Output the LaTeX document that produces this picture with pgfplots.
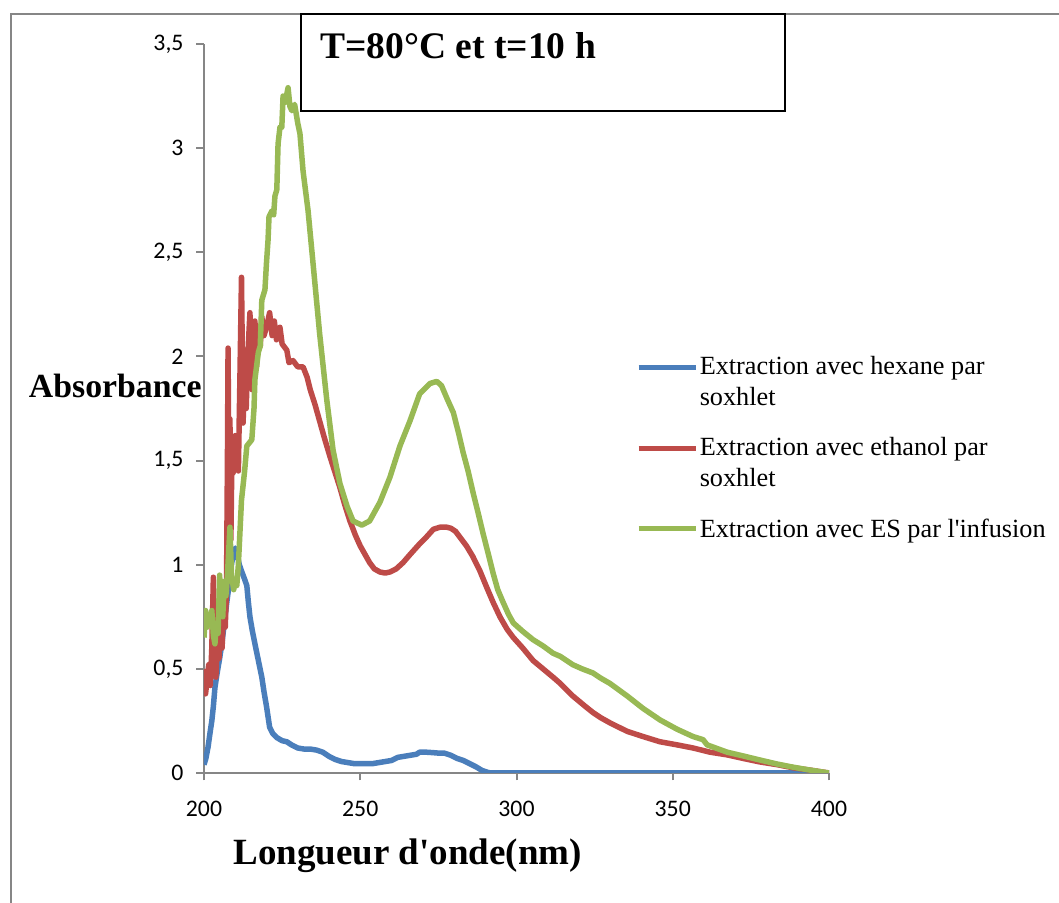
\documentclass[border=0pt]{standalone}
\usepackage{fontspec}
\setmainfont{Liberation Serif}[Ligatures=TeXOff]
\newfontfamily\carlito{Carlito}
\usepackage{pgfplots}
\pgfplotsset{compat=1.18}
\definecolor{hexblue}{HTML}{4A7EBB}
\definecolor{ethred}{HTML}{BE4B48}
\definecolor{esgreen}{HTML}{98B954}
\definecolor{axgray}{HTML}{868686}
\pgfplotsset{
    twolineimg/.style={legend image code/.code={\draw[##1, line width=2.2pt] (0pt,0.3em+3.2pt) -- (22.8pt,0.3em+3.2pt);}},
    onelineimg/.style={legend image code/.code={\draw[##1, line width=2.2pt] (0pt,0.3em-2.4pt) -- (22.8pt,0.3em-2.4pt);}},
}

\begin{document}
\begin{tikzpicture}
\begin{axis}[
    scale only axis,
    width=250pt, height=291.6pt,
    xmin=200, xmax=400, ymin=0, ymax=3.5,
    xtick={200,250,...,400},
    ytick={0,0.5,...,3.5},
    axis lines=left,
    x axis line style={-}, y axis line style={-},
    axis line style={axgray, line width=0.8pt},
    tick align=outside,
    major tick length=3pt,
    tick style={axgray, line width=0.8pt},
    /pgf/number format/.cd, use comma, 1000 sep={}, assume math mode=true,
    /pgfplots/.cd,
    ticklabel style={font=\carlito\fontsize{9.5}{11}\selectfont},
    yticklabel style={anchor=east, inner sep=0pt, xshift=-5pt},
    xticklabel style={anchor=north, inner sep=0pt, yshift=-8pt},
    every axis plot/.append style={line width=2.2pt, line join=round},
    legend style={at={(rel axis cs:0.69,0.579)}, anchor=north west, draw=none, fill=none,
        font=\fontsize{10.5}{12.4}\selectfont, row sep=7.3pt, inner sep=0pt,
        nodes={inner xsep=0.6pt}, cells={align=left}},
    legend cell align=left,
]
\addplot[hexblue, twolineimg] table {
200 0.04
200.6 0.07
201.3 0.125
202 0.2
202.5 0.25
203 0.32
203.5 0.41
204.2 0.48
205 0.55
205.8 0.63
206.5 0.72
207.3 0.82
208 0.9
208.6 0.98
209.3 1.05
210 1.08
210.6 1.05
211.3 1.0
212 0.97
213 0.93
213.7 0.9
214.2 0.82
214.7 0.75
215.5 0.68
216.3 0.62
217.4 0.54
218.5 0.46
219.2 0.39
220 0.32
220.5 0.27
221 0.22
222 0.19
223.3 0.17
225 0.155
226.5 0.15
228 0.135
230 0.12
232 0.115
234 0.115
236 0.11
238 0.10
240 0.08
242 0.065
244 0.055
246 0.05
248 0.045
250 0.045
252 0.045
254 0.045
256 0.05
258 0.055
260 0.06
262 0.075
264 0.08
266 0.085
268 0.09
269 0.10
271 0.10
273 0.098
275.5 0.095
277 0.095
279 0.085
281 0.07
283 0.06
285 0.045
287 0.03
289 0.012
291 0.002
292 0
400 0
};
\addlegendentry{Extraction avec hexane par\\soxhlet}
\addplot[ethred, twolineimg] table {
200 0.50
200.5 0.38
201 0.45
201.5 0.52
202 0.42
202.5 0.60
203 0.94
203.3 0.55
203.8 0.46
204.3 0.64
204.8 0.55
205.3 0.78
205.8 0.60
206.3 0.85
206.8 0.70
207.2 0.88
207.5 1.5
207.7 2.04
208 1.3
208.3 1.7
208.6 1.12
209 1.6
209.3 1.44
210 1.62
210.5 1.55
211 1.45
211.5 1.9
212 2.38
212.5 1.68
213 1.9
213.5 1.75
214 2.0
214.7 2.21
215.4 1.84
216.3 2.17
216.8 1.95
217.3 2.14
218 2.05
218.5 2.19
219.2 2.10
220 2.14
221 2.21
221.8 2.10
222.5 2.17
223.2 2.08
223.7 2.11
224.3 2.14
225 2.06
226.5 2.03
227.2 1.97
228.5 1.98
230 1.95
231.7 1.95
233 1.90
234 1.84
235.5 1.77
237 1.69
238.5 1.61
240.3 1.52
242 1.44
243.5 1.37
245 1.29
246.7 1.21
248.5 1.14
250 1.09
251.5 1.05
253 1.01
254.5 0.98
256.3 0.965
258 0.96
259.5 0.965
261.5 0.98
263.7 1.01
266 1.05
269 1.10
271 1.13
273.4 1.17
275.5 1.18
277.7 1.18
279 1.175
280.5 1.16
282 1.13
284 1.09
286 1.04
288.3 0.97
290.5 0.89
292.5 0.82
294.7 0.75
297 0.69
299 0.65
302 0.60
305.3 0.54
308.5 0.50
311.7 0.46
314 0.43
316 0.40
318 0.37
320 0.345
322 0.32
324.5 0.29
327 0.265
330 0.24
335.4 0.20
340.5 0.175
345.9 0.15
351.4 0.135
356.5 0.12
361.9 0.10
367.4 0.087
372.5 0.07
377.9 0.053
383.4 0.04
388.5 0.025
393.9 0.014
400 0
};
\addlegendentry{Extraction avec ethanol par\\soxhlet}
\addplot[esgreen, onelineimg] table {
200 0.65
200.5 0.78
201 0.70
201.5 0.76
202 0.72
202.5 0.78
203 0.66
203.5 0.62
204 0.72
204.5 0.67
205 0.95
205.5 0.80
206 0.75
206.5 0.92
207 0.85
207.5 0.95
208.3 1.18
208.8 0.95
209.5 0.88
210 0.92
210.5 0.90
211 1.0
212 1.31
213 1.45
213.7 1.57
215.3 1.60
216 1.75
216.3 1.89
217.4 2.02
218 2.05
218.5 2.27
219.5 2.32
220 2.45
220.5 2.56
220.8 2.67
221.8 2.70
222.3 2.68
222.7 2.77
223.3 2.80
223.7 3.02
224.3 3.10
224.9 3.10
225.3 3.25
226 3.22
226.9 3.29
227.5 3.20
228.1 3.18
229 3.21
230 3.12
230.7 3.07
231.7 2.89
233.3 2.70
235 2.43
237 2.11
239.3 1.79
241.3 1.55
243.5 1.39
245.8 1.28
247.7 1.21
250.5 1.19
253 1.21
256.3 1.30
259.5 1.42
262.7 1.57
265.9 1.69
269 1.82
272.3 1.87
274.5 1.88
276 1.86
277.7 1.80
279.8 1.73
281.5 1.63
282.9 1.54
284.5 1.45
286.2 1.34
287.7 1.25
289.3 1.15
291 1.05
292.5 0.96
294 0.88
295.7 0.82
297.5 0.76
299 0.72
302 0.68
305.3 0.64
308.5 0.61
311.7 0.575
314 0.56
318 0.52
321 0.50
324.5 0.48
327 0.455
329.9 0.43
335.4 0.37
340.5 0.31
345.9 0.255
351.4 0.21
356.5 0.175
359.7 0.16
361 0.135
367.4 0.10
372.5 0.082
378 0.062
383.4 0.043
388.5 0.028
393.9 0.014
400 0
};
\addlegendentry{Extraction avec ES par l'infusion}
\end{axis}
% frame and title box
\draw[axgray, line width=0.8pt] (-77.2pt,-52pt) -- (-77.2pt,303.6pt) -- (342pt,303.6pt);
\draw[black, line width=0.8pt, fill=white] (38.8pt,264.8pt) rectangle (232.4pt,303.6pt);
\node[anchor=base west, inner sep=0pt, font=\bfseries\fontsize{15}{18}\selectfont] at (46.4pt,285.6pt) {T=80°C et t=10 h};
\node[anchor=base west, inner sep=0pt, font=\bfseries\fontsize{13.5}{16}\selectfont] at (-70.2pt,150pt) {Absorbance};
\node[anchor=base west, inner sep=0pt, font=\bfseries\fontsize{14.8}{18}\selectfont] at (11.6pt,-36.8pt) {Longueur d'onde(nm)};
\pgfresetboundingbox
\path (-81.6pt,-52pt) rectangle (342pt,309.2pt);
\end{tikzpicture}
\end{document}
